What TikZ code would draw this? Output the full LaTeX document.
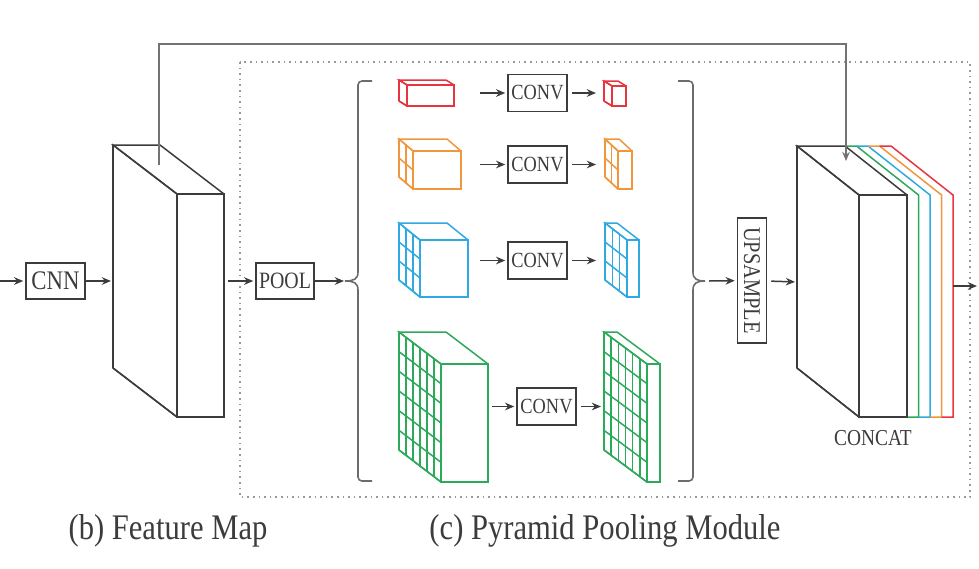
\documentclass[tikz,border=0pt]{standalone}
\usepackage{fontspec}
\setmainfont{Liberation Serif}[FakeStretch=0.85]
\usepackage{tikz}
\usetikzlibrary{calc,arrows.meta}
\usepackage{xcolor}

\definecolor{pred}{HTML}{E8343F}
\definecolor{porange}{HTML}{F0963C}
\definecolor{pblue}{HTML}{2EA9E1}
\definecolor{pgreen}{HTML}{2DA95B}
\definecolor{pline}{HTML}{3C3C3C}

% colour, front top-left x, y, width, height, depth dx, dy, grid cells
\newcommand{\featbox}[8]{%
  \draw[#1, line width=0.75pt] (#2,#3) rectangle ++(#4,#5);
  \draw[#1, line width=0.75pt] (#2,#3) -- ++(#6,#7) -- ++(#4,0) -- ({#2+#4},#3);
  \draw[#1, line width=0.75pt] (#2,#3) -- ++(#6,#7) -- ++(0,#5) -- (#2,{#3+#5});
  \foreach \i in {1,...,#8} {
    \draw[#1, line width=0.75pt] ({#2+#6*\i/#8},{#3+#7*\i/#8}) -- ++(0,#5);
    \draw[#1, line width=0.75pt] (#2,{#3+#5*\i/#8}) -- ++(#6,#7);
  }%
}

\begin{document}
\begin{tikzpicture}[x=0.5pt, y=-0.5pt,
    arr/.style={pline, line width=0.75pt, -{Stealth[length=4.6pt,width=3.8pt]}, shorten >=1pt},
    opbox/.style={draw=pline, line width=0.75pt, inner sep=0pt, text=pline},
    conv/.style={opbox, minimum width=29.5pt, minimum height=18.5pt, font=\fontsize{10.8}{12}\selectfont},
    brk/.style={gray!85!black, line width=0.8pt}]
  \useasboundingbox (0,0) rectangle (979,568);

  % pyramid pooling frame
  \draw[gray!80, line width=0.8pt, dotted] (240,62) rectangle (970,497);

  % backbone
  \coordinate (in) at (0,281);
  \node[opbox, minimum width=29.5pt, minimum height=18pt, font=\fontsize{13.4}{14}\selectfont] (cnn) at (55.5,281) {CNN};
  \featbox{pline}{177}{194}{47}{223}{-64}{-49}{1}
  \coordinate (fm-w) at (113,281);
  \coordinate (fm-e) at (228,281);
  \coordinate (fm-top) at (159,165);
  \draw[arr] (in) -- (cnn);
  \draw[arr] (cnn) -- (fm-w);

  \node[opbox, minimum width=29pt, minimum height=18pt, font=\fontsize{11.7}{13}\selectfont] (pool) at (285,281) {POOL};
  \draw[arr] (fm-e) -- (pool);

  % brackets
  \coordinate (lbrk) at (346,281);
  \coordinate (rbrk) at (709,281);
  \draw[brk, rounded corners=2pt] (372,81) -- (358,81) -- (358,272);
  \draw[brk] (358,272) .. controls (358,279) and (354,281) .. (345,281) .. controls (354,281) and (358,283) .. (358,290);
  \draw[brk, rounded corners=2pt] (358,290) -- (358,481) -- (372,481);
  \draw[brk, rounded corners=2pt] (678,81) -- (693,81) -- (693,272);
  \draw[brk] (693,272) .. controls (693,279) and (697,281) .. (705,281) .. controls (697,281) and (693,283) .. (693,290);
  \draw[brk, rounded corners=2pt] (693,290) -- (693,481) -- (678,481);
  \draw[arr] (pool) -- (lbrk);

  % pooled maps
  \featbox{pred}{407}{85}{47}{21}{-8}{-5}{1}
  \featbox{porange}{413}{151}{48}{38}{-14}{-12}{2}
  \featbox{pblue}{420}{240}{48}{57}{-21}{-17}{3}
  \featbox{pgreen}{441}{364}{47}{118}{-42}{-32}{6}

  \node[conv] (conv1) at (537.5,93) {CONV};
  \node[conv] (conv2) at (537.5,164.5) {CONV};
  \node[conv] (conv3) at (537.5,260.5) {CONV};
  \node[conv] (conv4) at (546.5,406.5) {CONV};

  \featbox{pred}{612}{86}{14}{20}{-8}{-5}{1}
  \featbox{porange}{618}{151}{14}{38}{-13}{-12}{2}
  \featbox{pblue}{627}{240}{12}{57}{-22}{-17}{3}
  \featbox{pgreen}{647}{364}{13}{118}{-43}{-32}{6}

  \coordinate (in1) at (480,93);
  \coordinate (in2) at (480,164.5);
  \coordinate (in3) at (480,260.5);
  \coordinate (in4) at (492,406.5);
  \coordinate (out1) at (598,93);
  \coordinate (out2) at (598,164.5);
  \coordinate (out3) at (598,260.5);
  \coordinate (out4) at (603,406.5);
  \foreach \k in {1,...,4} {
    \draw[arr] (in\k) -- (conv\k);
    \draw[arr, shorten <=2pt] (conv\k) -- (out\k);
  }

  % upsample and concat
  \node[opbox, minimum width=14.5pt, minimum height=62.5pt] (up) at (752,280.5) {};
  \node[rotate=-90, text=pline, font=\fontsize{12}{13}\selectfont] (uptxt) at (up.center) {UPSAMPLE};
  \draw[arr] (rbrk) -- (up);

  \foreach \c [count=\k] in {pgreen,pblue,porange,pred}
    \draw[\c, line width=0.75pt] ({907+11.5*(\k-1)},417) -- ({907+11.5*\k},417) -- ({907+11.5*\k},195)
      -- ({845+11.5*\k},146) -- ({845+11.5*(\k-1)},146);
  \featbox{pline}{859}{195}{48}{222}{-62}{-49}{1}
  \coordinate (cat-w) at (797,282);
  \coordinate (cat-top) at (846,163);
  \coordinate (cat-e) at (953,286);
  \coordinate (out) at (979,286);
  \draw[arr, shorten <=2pt] (up) -- (cat-w);
  \draw[arr] (cat-e) -- (out);
  \draw[arr, gray!90!black] (fm-top) -- ++(0,-121) -| (cat-top);
  \node[text=pline, font=\fontsize{11.4}{12}\selectfont] (cattxt) at (873,438) {CONCAT};

  % captions
  \node[text=pline, font=\fontsize{18}{20}\selectfont] (capb) at (168,531) {(b) Feature Map};
  \node[text=pline, font=\fontsize{18}{20}\selectfont] (capc) at (605,531) {(c) Pyramid Pooling Module};
\end{tikzpicture}
\end{document}
